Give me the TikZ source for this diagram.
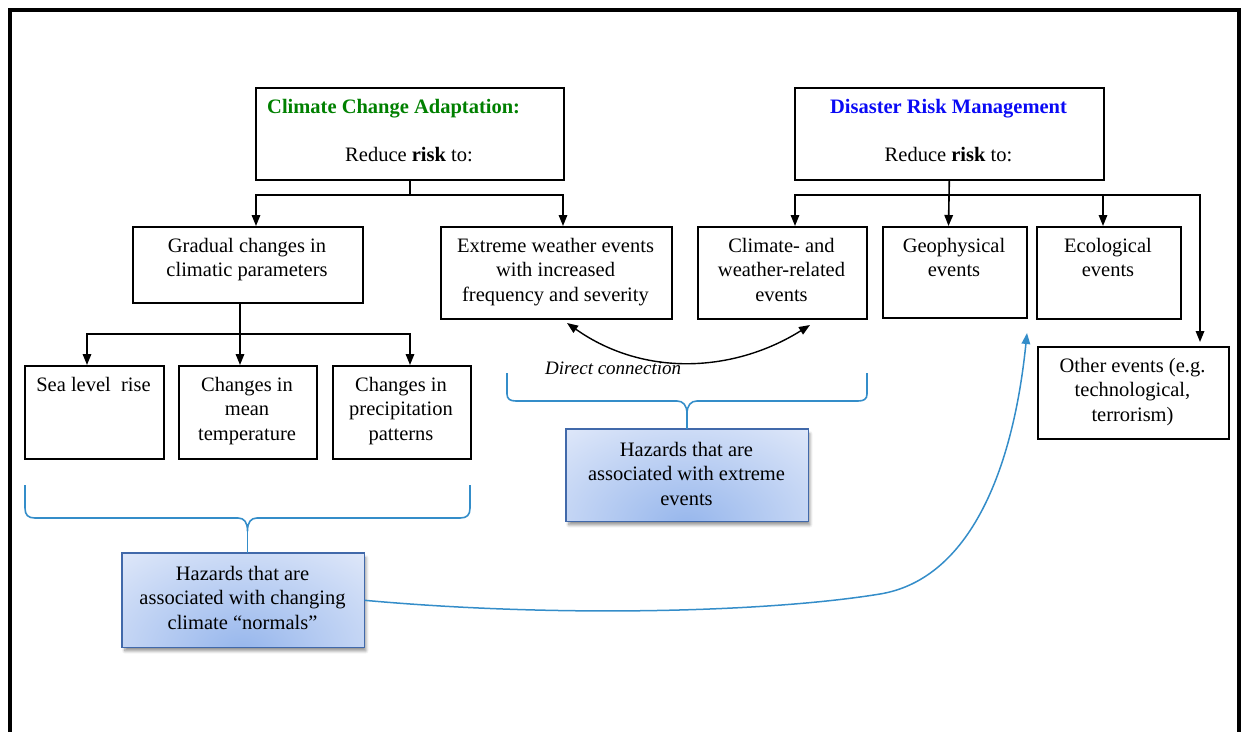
\documentclass[tikz,border=0pt]{standalone}
\usepackage{fontspec}
\setmainfont{Liberation Serif}
\usetikzlibrary{arrows.meta,shadows.blur,calc}

\definecolor{ccagreen}{RGB}{0,128,0}
\definecolor{drmblue}{RGB}{10,10,245}
\definecolor{linkblue}{RGB}{52,141,201}
\definecolor{hzborder}{RGB}{65,105,170}
\definecolor{hzin}{RGB}{150,182,236}
\definecolor{hzout}{RGB}{238,242,252}

\newcommand\bodyfont{\fontsize{20.5}{24.5}\selectfont}

\tikzset{
  box/.style={draw=black, line width=1.6pt, inner sep=0pt, anchor=north west},
  txt/.style={anchor=north, inner sep=0pt, align=center, font=\bodyfont},
  tip/.style={-{Triangle[length=11pt,width=8.5pt]}},
  link/.style={tip, draw=black, line width=1.6pt},
  brace/.style={draw=linkblue, line width=1.6pt, line join=round},
  hazard/.style={draw=hzborder, line width=1.6pt, inner sep=0pt, anchor=north west,
    fill=hzout, blur shadow={shadow xshift=2pt, shadow yshift=-4pt, shadow opacity=45,
      shadow blur radius=3pt, shadow blur steps=8}},
}

% framed box with top-aligned centred text: name, x1, y1, x2, y2, text
\newcommand\tbox[6]{%
  \node[box, minimum width={#4-#2}, minimum height={#5-#3}] (#1) at (#2,#3) {};
  \node[txt] (#1-t) at ({(#2+#4)/2},{#3+8.85}) {\strut #6};
}

% shaded hazard box: name, x1, y1, x2, y2, text
\newcommand\hazardbox[6]{%
  \node[hazard, minimum width={#4-#2}, minimum height={#5-#3}] (#1) at (#2,#3) {};
  \begin{scope}
    \clip (#1.north west) rectangle (#1.south east);
    \shade[inner color=hzin, outer color=hzout]
      ({(#2+#4)/2},{#5+6}) ellipse ({(#4-#2)*0.95} and {(#5-#3)*1.7});
  \end{scope}
  \draw[draw=hzborder, line width=1.6pt] (#1.north west) rectangle (#1.south east);
  \node[txt] (#1-t) at ({(#2+#4)/2},{#3+9.85}) {\strut #6};
}

\begin{document}
\begin{tikzpicture}[x=1pt, y=-1pt]
\useasboundingbox (0,0) rectangle (1244,731);

% outer frame
\draw[line width=4pt] (10,10) rectangle (1239,780);

% ---- heading boxes
\node[box, minimum width=308, minimum height=92] (cca) at (255,87) {};
\node[anchor=base west, inner sep=0pt, font=\bodyfont\bfseries, text=ccagreen] (cca-h) at (267,113) {Climate Change Adaptation:};
\node[anchor=base, inner sep=0pt, font=\bodyfont] (cca-r) at (409,161) {Reduce \textbf{risk} to:};

\node[box, minimum width=309, minimum height=92] (drm) at (794,87) {};
\node[anchor=base, inner sep=0pt, font=\bodyfont\bfseries, text=drmblue] (drm-h) at (948.5,113) {Disaster Risk Management};
\node[anchor=base, inner sep=0pt, font=\bodyfont] (drm-r) at (948.5,161) {Reduce \textbf{risk} to:};

% ---- second row
\tbox{grad}{132}{226}{362}{302}{Gradual changes in\\climatic parameters}
\tbox{ext}{440}{226}{671}{318}{Extreme weather events\\with increased\\frequency and severity}
\tbox{cwr}{697}{226}{866}{318}{Climate- and\\weather-related\\events}
\tbox{geo}{882}{226}{1026}{317}{Geophysical\\events}
\tbox{eco}{1036}{226}{1180}{318}{Ecological\\events}
\tbox{oth}{1037}{346}{1228}{438}{Other events (e.g.\\technological,\\terrorism)}

% ---- third row
\tbox{sea}{24}{365}{163}{458}{Sea level \ rise}
\tbox{temp}{178}{365}{316}{458}{Changes in\\mean\\temperature}
\tbox{prec}{332}{365}{470}{458}{Changes in\\precipitation\\patterns}

% ---- hazard boxes
\hazardbox{hzx}{566}{429}{807}{520}{Hazards that are\\associated with extreme\\events}
\hazardbox{hzn}{122}{553}{363}{646}{Hazards that are\\associated with changing\\climate “normals”}

% ---- tree connectors
\coordinate (ccaL) at (256,195);
\coordinate (ccaR) at (563,195);
\draw[link] (cca.south) |- (ccaL) -- (ccaL |- grad.north);
\draw[link] (cca.south) |- (ccaR) -- (ccaR |- ext.north);

\coordinate (drmA) at (795,195);
\coordinate (drmB) at (948.5,195);
\coordinate (drmC) at (1103,195);
\coordinate (drmD) at (1200,195);
\draw[link] (drm.south) |- (drmA) -- (drmA |- cwr.north);
\draw[link] (drm.south) -- (drmB |- geo.north);
\draw[link] (drm.south) |- (drmC) -- (drmC |- eco.north);
\draw[link] (drmC) -- (drmD) -- ($(drmD |- oth.north)+(0,-4)$);

\coordinate (grdS) at (240,302);
\coordinate (grdJ) at (240,334);
\coordinate (grdL) at (87,334);
\coordinate (grdR) at (410,334);
\draw[link] (grdS) -- (grdJ |- temp.north);
\draw[link] (grdJ) -- (grdL) -- (grdL |- sea.north);
\draw[link] (grdJ) -- (grdR) -- (grdR |- prec.north);

% ---- direct connection between the two event boxes
\coordinate (dcA) at (567,323);
\coordinate (dcB) at (810,325);
\draw[line width=1.4pt, {Triangle[length=11pt,width=8.5pt]}-{Triangle[length=11pt,width=8.5pt]}]
  (dcA) .. controls (645,378) and (735,372) .. (dcB);
\node[anchor=base west, inner sep=0pt, font=\fontsize{19}{23}\selectfont\itshape] (dc) at (545,374) {Direct connection};

% ---- braces
\coordinate (b1tip) at (247.5,531);
\draw[brace] (25,485) -- (25,508) .. controls (25,515) and (28,518) .. (35,518)
  -- (238,518) .. controls (244,518) and (247.5,522) .. (b1tip)
  .. controls (247.5,522) and (251,518) .. (257,518)
  -- (460,518) .. controls (467,518) and (470,515) .. (470,508) -- (470,485);
\draw[brace] (b1tip) -- (b1tip |- hzn.north);

\coordinate (b2tip) at (687,414);
\draw[brace] (507,373) -- (507,394) .. controls (507,399) and (510,401) .. (516,401)
  -- (677,401) .. controls (683,401) and (687,405) .. (b2tip)
  .. controls (687,405) and (691,401) .. (697,401)
  -- (858,401) .. controls (864,401) and (867,399) .. (867,394) -- (867,373);
\draw[brace] (b2tip) -- (b2tip |- hzx.north);

% ---- link from changing normals to the disaster-risk side
\coordinate (blueEnd) at (1027,333);
\draw[line width=1.5pt, draw=linkblue, tip]
  (hzn.east) .. controls (560,618) and (770,612) .. (880,594)
  .. controls (965,580) and (1012,480) .. (blueEnd);

\end{tikzpicture}
\end{document}
